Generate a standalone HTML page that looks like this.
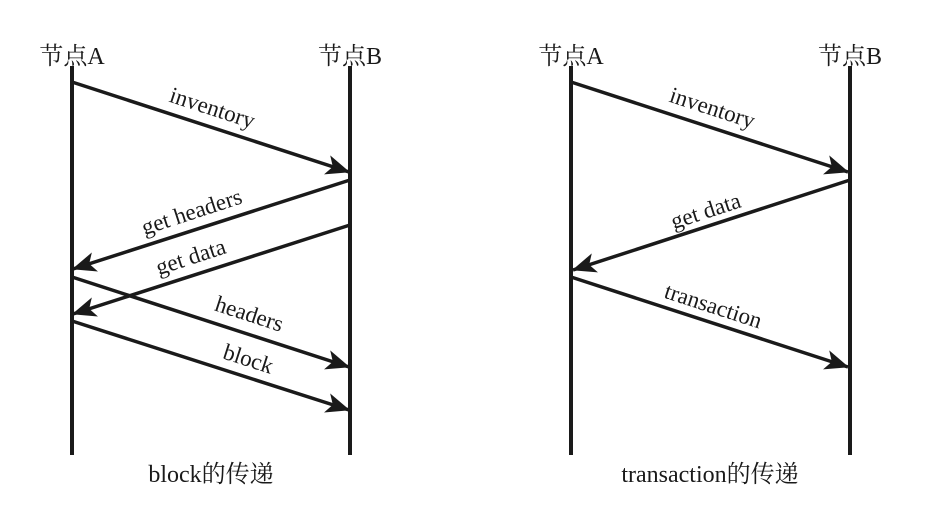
<!DOCTYPE html>
<html><head><meta charset="utf-8"><style>body{margin:0;background:#fff}svg{display:block}</style></head><body>
<svg width="932" height="510" viewBox="0 0 932 510" xmlns="http://www.w3.org/2000/svg" font-family="'Liberation Serif','Noto Serif CJK SC',serif" fill="#1a1a1a">
<defs><marker id="a" viewBox="0 0 24 20" refX="23" refY="10" markerWidth="24" markerHeight="20" markerUnits="userSpaceOnUse" orient="auto"><path d="M0,0 L24,10 L0,20 L6,10 Z" fill="#1a1a1a"/></marker></defs>
<g stroke="#1a1a1a" stroke-width="4"><line x1="72" y1="66" x2="72" y2="455"/><line x1="350" y1="66" x2="350" y2="455"/><line x1="571" y1="66" x2="571" y2="455"/><line x1="850" y1="66" x2="850" y2="455"/></g>
<g stroke="#1a1a1a" stroke-width="3.5" marker-end="url(#a)">
<line x1="72" y1="82" x2="349" y2="172"/>
<line x1="350" y1="180" x2="73" y2="269"/>
<line x1="350" y1="225" x2="73" y2="314"/>
<line x1="72" y1="277" x2="349" y2="367"/>
<line x1="72" y1="321" x2="349" y2="410"/>
<line x1="571" y1="82" x2="848" y2="172"/>
<line x1="850" y1="180" x2="573" y2="270"/>
<line x1="571" y1="277" x2="848" y2="367"/>
</g>
<g font-size="24">
<text x="72" y="64" text-anchor="middle">节点A</text><text x="350" y="64" text-anchor="middle">节点B</text>
<text x="571" y="64" text-anchor="middle">节点A</text><text x="850" y="64" text-anchor="middle">节点B</text>
<text x="211" y="482" text-anchor="middle">block的传递</text><text x="710" y="482" text-anchor="middle">transaction的传递</text>
</g>
<g font-size="23" text-anchor="middle">
<text transform="translate(210,115) rotate(18)">inventory</text>
<text transform="translate(194,219) rotate(-18)">get headers</text>
<text transform="translate(193,264) rotate(-18)">get data</text>
<text transform="translate(247,321) rotate(18)">headers</text>
<text transform="translate(246,366) rotate(18)">block</text>
<text transform="translate(710,115) rotate(18)">inventory</text>
<text transform="translate(708,218) rotate(-18)">get data</text>
<text transform="translate(711,313) rotate(18)">transaction</text>
</g>
</svg>
</body></html>
